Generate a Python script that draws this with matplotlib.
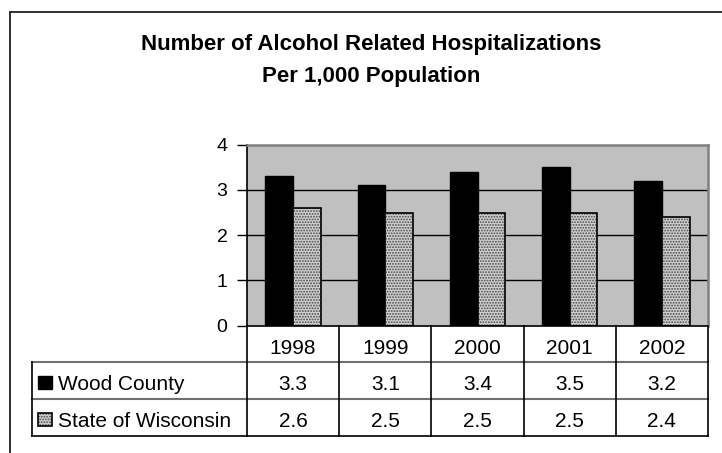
import matplotlib
matplotlib.use("Agg")
import matplotlib.pyplot as plt
from matplotlib.patches import Rectangle
from matplotlib.lines import Line2D
from matplotlib.transforms import blended_transform_factory

plt.rcParams['font.family'] = ['Liberation Sans', 'DejaVu Sans']
plt.rcParams['hatch.linewidth'] = 0.9

years = ["1998", "1999", "2000", "2001", "2002"]
series_names = ["Wood County", "State of Wisconsin"]
wood = [3.3, 3.1, 3.4, 3.5, 3.2]
state = [2.6, 2.5, 2.5, 2.5, 2.4]
yticks = [0, 1, 2, 3, 4]
title_lines = ["Number of Alcohol Related Hospitalizations", "Per 1,000 Population"]

W, H = 722, 453
fig = plt.figure(figsize=(W / 100, H / 100), dpi=100)
fig.patch.set_facecolor("white")

def fx(px):
    return px / W

def fy(py):
    return 1 - py / H

# outer frame (extends past right/bottom edges)
fig.patches.append(Rectangle((fx(10), fy(470)), 1.2, fy(12) - fy(470),
                             transform=fig.transFigure, fill=False,
                             edgecolor="#202020", linewidth=1.3))

TITLE_FS = 16
fig.text(fx(371), fy(50), title_lines[0], ha="center", va="baseline",
         fontsize=TITLE_FS, fontweight="bold")
fig.text(fx(371), fy(81.7), title_lines[1], ha="center", va="baseline",
         fontsize=TITLE_FS, fontweight="bold")

left, right, top, bottom = 247, 708, 144.7, 325.5
ax = fig.add_axes([fx(left), fy(bottom), fx(right) - fx(left), fy(top) - fy(bottom)])
ax.set_facecolor("#c0c0c0")
n = len(years)
x = list(range(n))
ax.set_xlim(-0.5, n - 0.5)
ax.set_ylim(0, 4)
ax.set_yticks(yticks)
ax.set_yticklabels([str(t) for t in yticks], fontsize=14)
ax.set_xticks([])
for yv in yticks[1:-1]:
    ax.axhline(yv, color="black", linewidth=1.0, zorder=1)
bw = 0.3
HATCH_FACE = "#d0d0d0"
HATCH_INK = "#484848"
ax.bar([i - bw / 2 for i in x], wood, width=bw, color="black",
       edgecolor="black", linewidth=1, zorder=3)
ax.bar([i + bw / 2 for i in x], state, width=bw, color=HATCH_FACE,
       edgecolor=HATCH_INK, hatch="......", linewidth=0, zorder=3)
ax.bar([i + bw / 2 for i in x], state, width=bw, fill=False,
       edgecolor="black", linewidth=1.2, zorder=4)
for s in ["top", "right"]:
    ax.spines[s].set_color("#808080")
    ax.spines[s].set_linewidth(1.8)
for s in ["left", "bottom"]:
    ax.spines[s].set_color("black")
    ax.spines[s].set_linewidth(1.2)
ax.spines["bottom"].set_zorder(5)
ax.tick_params(axis="y", length=7, width=1, pad=7, direction="out")

# data table under the plot
TABLE_FS = 15
tbl_top, tbl_bot = bottom, 435.5
row_h = (tbl_bot - tbl_top) / 3
base_off = 28
tr = blended_transform_factory(ax.transData, fig.transFigure)
label_left_px = 32
unit_px = (right - left) / n
xl = -0.5 - (left - label_left_px) / unit_px
xr = n - 0.5

def hline(y_px, x0, x1, color, lw):
    fig.lines.append(Line2D([x0, x1], [fy(y_px), fy(y_px)], transform=tr,
                            color=color, linewidth=lw, clip_on=False))

def vline(xv, y0, y1, color, lw):
    fig.lines.append(Line2D([xv, xv], [fy(y0), fy(y1)], transform=tr,
                            color=color, linewidth=lw, clip_on=False))

hline(tbl_top + row_h, xl, xr, "#707070", 1.5)
hline(tbl_top + 2 * row_h, xl, xr, "#707070", 1.5)
hline(tbl_bot, xl, xr, "black", 1.2)
for k in range(n + 1):
    vline(k - 0.5, tbl_top, tbl_bot, "black", 1.2)
vline(xl, tbl_top + row_h, tbl_bot, "black", 1.2)

for i, yr in enumerate(years):
    fig.text(i, fy(tbl_top + base_off), yr, transform=tr, ha="center",
             va="baseline", fontsize=TABLE_FS)
for r, vals in enumerate([wood, state]):
    yb = tbl_top + row_h * (r + 1) + base_off
    for i, v in enumerate(vals):
        fig.text(i, fy(yb), f"{v:.1f}", transform=tr, ha="center",
                 va="baseline", fontsize=TABLE_FS)

# legend keys in row labels
tr_pix = fig.transFigure
kx, kw, kh = 38, 14, 13
for r, name in enumerate(series_names):
    row_top = tbl_top + row_h * (r + 1)
    ky = row_top + 14.2
    if r == 0:
        fig.patches.append(Rectangle((fx(kx), fy(ky + kh)), fx(kw), kh / H,
                                     transform=tr_pix, facecolor="black",
                                     edgecolor="black", linewidth=1))
    else:
        fig.patches.append(Rectangle((fx(kx), fy(ky + kh)), fx(kw), kh / H,
                                     transform=tr_pix, facecolor=HATCH_FACE,
                                     edgecolor=HATCH_INK, hatch="......",
                                     linewidth=0))
        fig.patches.append(Rectangle((fx(kx), fy(ky + kh)), fx(kw), kh / H,
                                     transform=tr_pix, fill=False,
                                     edgecolor="black", linewidth=1.2))
    fig.text(fx(58), fy(row_top + base_off), name, ha="left", va="baseline",
             fontsize=TABLE_FS)

fig.savefig("out.png", dpi=100)
